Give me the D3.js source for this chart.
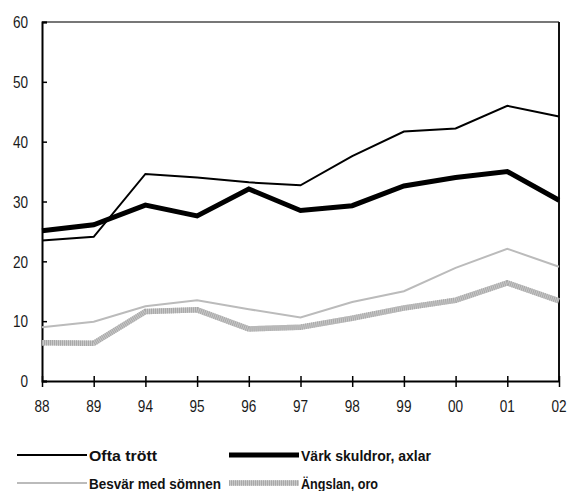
<!DOCTYPE html>
<html><head><meta charset="utf-8">
<script src="https://cdn.jsdelivr.net/npm/d3@7/dist/d3.min.js"></script>
<style>
body{margin:0;background:#fff;}
svg{display:block;font-family:"Liberation Sans",Arial,sans-serif;}
</style></head><body>
<svg id="c" width="567" height="491"></svg>
<script>
const years = ["88","89","94","95","96","97","98","99","00","01","02"];
const yTicks = [0,10,20,30,40,50,60];
const seriesNames = ["Ofta trött","Värk skuldror, axlar","Besvär med sömnen","Ängslan, oro"];
const oftaTrott = [23.5,24.1,34.6,34.0,33.2,32.7,37.6,41.7,42.2,46.0,44.2];
const varkSkuldror = [25.1,26.1,29.4,27.6,32.1,28.5,29.3,32.6,34.0,35.0,30.2];
const besvarSomnen = [9.0,9.9,12.5,13.5,12.0,10.6,13.2,15.0,18.9,22.1,19.1];
const angslanOro = [6.4,6.3,11.6,11.9,8.7,9.0,10.5,12.2,13.5,16.4,13.4];

const svg = d3.select("#c");
const L=42, R=559, T=22, B=381;
const x = d3.scalePoint().domain(years).range([L,R]);
const y = d3.scaleLinear().domain([0,60]).range([B,T]);

// frame
svg.append("line").attr("x1",L).attr("x2",R).attr("y1",T).attr("y2",T).attr("stroke","#777").attr("stroke-width",2);
svg.append("line").attr("x1",R).attr("x2",R).attr("y1",T).attr("y2",B).attr("stroke","#111").attr("stroke-width",2);

// y axis
const ya = svg.append("g").attr("transform",`translate(${L},0)`)
  .call(d3.axisRight(y).tickValues(yTicks).tickSize(5).tickFormat(""));
ya.select(".domain").attr("stroke","#000").attr("stroke-width",2);
ya.selectAll(".tick line").attr("stroke","#000").attr("stroke-width",1.5);
svg.append("g").selectAll("text").data(yTicks).join("text")
  .attr("transform",d=>`translate(28,${y(d)+6.3}) scale(0.8,1)`).attr("text-anchor","end")
  .attr("font-size",17).attr("fill","#1a1a1a").text(d=>d);

// x axis
const xa = svg.append("g").attr("transform",`translate(0,${B})`)
  .call(d3.axisBottom(x).tickSize(6).tickSizeOuter(0).tickFormat(""));
xa.select(".domain").attr("stroke","#000").attr("stroke-width",2);
xa.selectAll(".tick line").attr("stroke","#000").attr("stroke-width",1.5).attr("y1",-5).attr("y2",6);
svg.append("g").selectAll("text").data(years).join("text")
  .attr("transform",d=>`translate(${x(d)},412) scale(0.8,1)`).attr("text-anchor","middle")
  .attr("font-size",17).attr("fill","#1a1a1a").text(d=>d);

const line = d3.line().x((d,i)=>x(years[i])).y(d=>y(d)).curve(d3.curveLinear);
function draw(data, styles){
  styles.forEach(s=>{
    const p = svg.append("path").attr("d",line(data)).attr("fill","none")
      .attr("stroke",s.c).attr("stroke-width",s.w).attr("stroke-linejoin","miter");
    if(s.d) p.attr("stroke-dasharray",s.d);
  });
}
const styleA=[{c:"#000",w:2}];
const styleB=[{c:"#000",w:5}];
const styleC=[{c:"#bbb",w:2}];
const styleD=[{c:"#c8c8c8",w:5.5},{c:"#a8a8a8",w:5.5,d:"1,1"}];
draw(besvarSomnen, styleC);
draw(angslanOro, styleD);
draw(oftaTrott, styleA);
draw(varkSkuldror, styleB);

// legend
const leg = [
  {n:seriesNames[0], s:styleA, lx:17, ly:455, tw:68},
  {n:seriesNames[1], s:styleB, lx:229, ly:455, tw:130},
  {n:seriesNames[2], s:styleC, lx:17, ly:483, tw:132},
  {n:seriesNames[3], s:styleD, lx:229, ly:483, tw:77},
];
leg.forEach(l=>{
  l.s.forEach(s=>{
    const ln = svg.append("line").attr("x1",l.lx).attr("x2",l.lx+70).attr("y1",l.ly).attr("y2",l.ly)
      .attr("stroke",s.c).attr("stroke-width",s.w);
    if(s.d) ln.attr("stroke-dasharray",s.d);
  });
  svg.append("text").attr("x",l.lx+72).attr("y",l.ly+6).attr("font-size",15)
    .attr("font-weight","bold").attr("fill","#111")
    .attr("textLength",l.tw).attr("lengthAdjust","spacingAndGlyphs").text(l.n);
});
</script></body></html>
